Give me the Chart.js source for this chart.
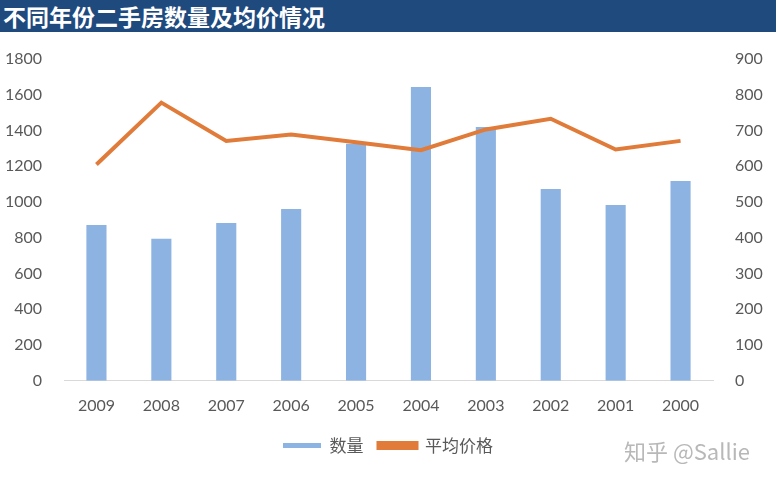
<!DOCTYPE html>
<html>
<head>
<meta charset="utf-8">
<script src="https://cdn.jsdelivr.net/npm/chart.js@4.4.0/dist/chart.umd.min.js"></script>
<style>
  html, body { margin: 0; padding: 0; background: #fff; }
  #wrap { position: relative; width: 776px; height: 482px; overflow: hidden; }
  #title {
    height: 32px; background: #1F4A7E; color: #fff;
    font: bold 23px "Noto Sans CJK SC", sans-serif; line-height: 32px;
    padding-left: 3px; white-space: nowrap;
  }
  #box { position: absolute; left: 0; top: 32px; width: 776px; height: 450px; }
  #mark {
    position: absolute; left: 624px; top: 434px; color: #b8b8b8;
    font: 22px "Noto Sans CJK SC", sans-serif; white-space: nowrap;
  }
</style>
</head>
<body>
<div id="wrap">
  <div id="title">不同年份二手房数量及均价情况</div>
  <div id="box"><canvas id="chart" width="776" height="450"></canvas></div>
  <div id="mark">知乎 @Sallie</div>
</div>
<script>
const years = ["2009", "2008", "2007", "2006", "2005", "2004", "2003", "2002", "2001", "2000"];
const counts = [872, 794, 883, 961, 1326, 1643, 1420, 1073, 984, 1118];
const avgPrice = [605, 778, 671, 689, 667, 645, 703, 733, 647, 671];

const tickFont = { family: "Lato, 'Noto Sans', sans-serif", size: 16 };
const plain = v => String(v);

const ctx = document.getElementById("chart").getContext("2d");
const chart = new Chart(ctx, {
  data: {
    labels: years,
    datasets: [
      {
        type: "bar",
        label: "数量",
        data: counts,
        backgroundColor: "#8DB3E2",
        yAxisID: "y",
        barPercentage: 0.62,
        categoryPercentage: 0.5,
        order: 2
      },
      {
        type: "line",
        label: "平均价格",
        data: avgPrice,
        borderColor: "#E07B39",
        backgroundColor: "#E07B39",
        borderWidth: 4,
        pointRadius: 0,
        tension: 0,
        yAxisID: "y1",
        order: 1
      }
    ]
  },
  options: {
    responsive: false,
    animation: false,
    layout: { padding: { top: 27, left: 0, right: 0, bottom: 18 } },
    plugins: {
      legend: {
        position: "bottom",
        labels: {
          boxWidth: 38,
          boxHeight: 5,
          color: "#595959",
          font: { family: "'Noto Sans CJK SC', sans-serif", size: 17 },
          padding: 15,
          sort: (a, b) => a.datasetIndex - b.datasetIndex
        }
      },
      tooltip: { enabled: false }
    },
    scales: {
      x: {
        grid: { display: false },
        border: { display: true, color: "#D9D9D9", width: 1 },
        ticks: { color: "#595959", font: tickFont, padding: 7, maxRotation: 0 }
      },
      y: {
        position: "left",
        min: 0, max: 1800,
        grid: { display: false },
        border: { display: false },
        ticks: { stepSize: 200, color: "#595959", font: tickFont, padding: 14, callback: plain },
        afterFit: s => { s.width = 64; }
      },
      y1: {
        position: "right",
        min: 0, max: 900,
        grid: { display: false },
        border: { display: false },
        ticks: { stepSize: 100, color: "#595959", font: tickFont, padding: 14, callback: plain },
        afterFit: s => { s.width = 63; }
      }
    }
  }
});
</script>
</body>
</html>
